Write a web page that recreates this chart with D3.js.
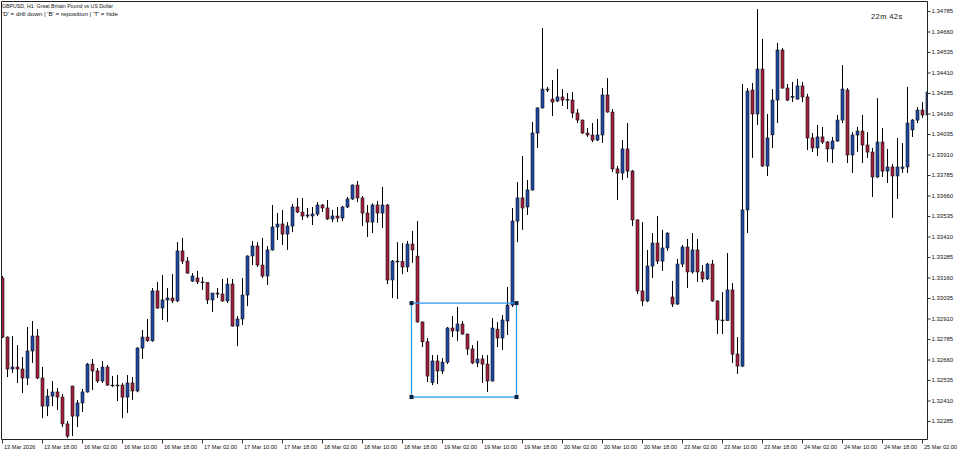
<!DOCTYPE html>
<html><head><meta charset="utf-8">
<script src="https://cdn.jsdelivr.net/npm/d3@7"></script>
<style>
html,body{margin:0;padding:0;background:#fff;}
svg{display:block;font-family:"Liberation Sans",Arial,sans-serif;}
</style></head>
<body>
<svg id="chart" width="960" height="455"></svg>
<script>
const title = "GBPUSD, H1:  Great Britain Pound vs US Dollar";
const subtitle = "'D' = drill down | 'B' = reposition | 'T' = hide";
const timer = "22m 42s";

const open = [1.33157,1.32797,1.32602,1.32614,1.32602,1.32547,1.32712,1.32803,1.32547,1.32376,
1.32437,1.32462,1.32431,1.32267,1.32498,1.32315,1.32395,1.32462,1.32632,1.32590,
1.32529,1.32614,1.32504,1.32501,1.32504,1.32431,1.32517,1.32468,1.32730,1.32797,
1.32774,1.33078,1.32974,1.33023,1.33035,1.33017,1.33322,1.33260,1.33138,1.33157,
1.33133,1.33129,1.33023,1.33065,1.33059,1.33017,1.33120,1.32864,1.32907,1.33053,
1.33291,1.33352,1.33236,1.33169,1.33328,1.33468,1.33486,1.33425,1.33474,1.33590,
1.33559,1.33535,1.33535,1.33547,1.33602,1.33584,1.33517,1.33535,1.33523,1.33590,
1.33639,1.33724,1.33645,1.33553,1.33498,1.33602,1.33553,1.33602,1.33145,1.33260,
1.33257,1.33224,1.33364,1.33290,1.32889,1.32768,1.32520,1.32651,1.32590,1.32644,
1.32852,1.32834,1.32876,1.32815,1.32724,1.32639,1.32663,1.32632,1.32529,1.32845,
1.32791,1.32895,1.32992,1.33504,1.33645,1.33590,1.33694,1.34041,1.34194,1.34309,
1.34248,1.34236,1.34261,1.34242,1.34242,1.34163,1.34120,1.34041,1.34029,1.33998,
1.34029,1.34273,1.34169,1.33822,1.33797,1.33944,1.33809,1.33511,1.33078,1.33017,
1.33230,1.33370,1.33260,1.33340,1.33041,1.32998,1.33242,1.33346,1.33194,1.33328,
1.33194,1.33151,1.33242,1.33017,1.32901,1.32897,1.33084,1.32693,1.32620,1.33572,
1.34303,1.34157,1.34431,1.33840,1.34030,1.34242,1.34547,1.34315,1.34260,1.34248,
1.34328,1.34261,1.34011,1.33950,1.34017,1.33986,1.33944,1.33992,1.34120,1.34303,
1.33907,1.34029,1.34053,1.33968,1.33925,1.33773,1.33986,1.33809,1.33834,1.33779,
1.33825,1.33834,1.34060,1.34120,1.34181,1.34151];

const high = [1.33169,1.32800,1.32803,1.32748,1.32675,1.32858,1.32895,1.32846,1.32614,1.32480,
1.32529,1.32486,1.32450,1.32285,1.32500,1.32413,1.32480,1.32639,1.32663,1.32608,
1.32651,1.32626,1.32559,1.32565,1.32517,1.32565,1.32553,1.32734,1.32840,1.32907,
1.33096,1.33133,1.33175,1.33096,1.33181,1.33376,1.33401,1.33285,1.33187,1.33200,
1.33163,1.33130,1.33066,1.33096,1.33151,1.33157,1.33151,1.32925,1.33157,1.33295,
1.33383,1.33376,1.33401,1.33352,1.33602,1.33553,1.33572,1.33498,1.33608,1.33645,
1.33645,1.33584,1.33590,1.33620,1.33608,1.33633,1.33572,1.33590,1.33596,1.33651,
1.33727,1.33748,1.33657,1.33602,1.33612,1.33627,1.33712,1.33608,1.33267,1.33376,
1.33370,1.33383,1.33444,1.33504,1.32892,1.32791,1.32687,1.32687,1.32669,1.32858,
1.32925,1.32980,1.32895,1.32818,1.32748,1.32774,1.32687,1.32687,1.32913,1.32889,
1.32931,1.33102,1.33584,1.33742,1.33901,1.33755,1.34108,1.34197,1.34681,1.34322,
1.34364,1.34431,1.34309,1.34285,1.34291,1.34187,1.34123,1.34072,1.34102,1.34126,
1.34315,1.34376,1.34187,1.33840,1.33998,1.34102,1.33816,1.33514,1.33498,1.33328,
1.33431,1.33535,1.33450,1.33435,1.33139,1.33273,1.33358,1.33395,1.33431,1.33395,
1.33236,1.33249,1.33267,1.33020,1.33071,1.33309,1.33126,1.32797,1.34340,1.34315,
1.34346,1.34797,1.34614,1.34157,1.34309,1.34590,1.34559,1.34340,1.34352,1.34370,
1.34352,1.34280,1.34041,1.34090,1.34078,1.33992,1.34017,1.34151,1.34456,1.34315,
1.34047,1.34078,1.34151,1.34047,1.33950,1.34254,1.34072,1.33944,1.33852,1.34011,
1.33980,1.34322,1.34126,1.34200,1.34230,1.34364];

const low = [1.32791,1.32553,1.32578,1.32517,1.32456,1.32504,1.32639,1.32541,1.32303,1.32315,
1.32376,1.32352,1.32248,1.32181,1.32193,1.32248,1.32340,1.32458,1.32474,1.32517,
1.32517,1.32500,1.32492,1.32407,1.32303,1.32334,1.32413,1.32460,1.32663,1.32768,
1.32768,1.32970,1.32901,1.32889,1.33004,1.33010,1.33242,1.33183,1.33133,1.33120,
1.33084,1.32998,1.32950,1.33035,1.33012,1.33004,1.32860,1.32742,1.32870,1.32986,
1.33236,1.33224,1.33157,1.33114,1.33324,1.33389,1.33358,1.33328,1.33437,1.33553,
1.33511,1.33523,1.33480,1.33535,1.33559,1.33511,1.33498,1.33498,1.33504,1.33584,
1.33633,1.33620,1.33474,1.33407,1.33431,1.33492,1.33462,1.33120,1.33035,1.33029,
1.33181,1.33194,1.33249,1.32885,1.32736,1.32523,1.32504,1.32510,1.32572,1.32632,
1.32797,1.32774,1.32812,1.32687,1.32632,1.32614,1.32517,1.32462,1.32525,1.32736,
1.32718,1.32809,1.32980,1.33376,1.33450,1.33541,1.33690,1.33950,1.34190,1.34291,
1.34145,1.34230,1.34206,1.34187,1.34133,1.34102,1.34035,1.34017,1.33986,1.33992,
1.33980,1.34165,1.33803,1.33633,1.33755,1.33767,1.33474,1.33059,1.32986,1.33010,
1.33157,1.33242,1.33200,1.33322,1.32980,1.32994,1.33224,1.33096,1.33183,1.33133,
1.33130,1.33145,1.33012,1.32815,1.32815,1.32895,1.32639,1.32572,1.32614,1.33431,
1.33889,1.34090,1.33834,1.33779,1.33950,1.34102,1.34312,1.34236,1.34230,1.34245,
1.34230,1.33937,1.33925,1.33901,1.33974,1.33864,1.33858,1.33988,1.34102,1.33858,
1.33797,1.33925,1.33858,1.33889,1.33651,1.33767,1.33773,1.33736,1.33523,1.33639,
1.33797,1.33797,1.34017,1.34102,1.34133,1.34133];

const close = [1.32797,1.32602,1.32614,1.32602,1.32547,1.32712,1.32803,1.32547,1.32376,1.32437,
1.32462,1.32431,1.32267,1.32193,1.32315,1.32395,1.32462,1.32632,1.32590,1.32529,
1.32614,1.32504,1.32501,1.32504,1.32431,1.32517,1.32468,1.32730,1.32797,1.32774,
1.33078,1.32974,1.33023,1.33035,1.33017,1.33322,1.33260,1.33187,1.33169,1.33133,
1.33129,1.33023,1.33065,1.33059,1.33017,1.33120,1.32864,1.32907,1.33053,1.33291,
1.33352,1.33236,1.33169,1.33328,1.33468,1.33486,1.33425,1.33474,1.33590,1.33559,
1.33535,1.33541,1.33547,1.33602,1.33584,1.33517,1.33535,1.33523,1.33590,1.33639,
1.33724,1.33645,1.33553,1.33498,1.33602,1.33553,1.33602,1.33145,1.33260,1.33257,
1.33224,1.33364,1.33328,1.32889,1.32768,1.32559,1.32651,1.32590,1.32644,1.32852,
1.32834,1.32876,1.32815,1.32724,1.32639,1.32663,1.32632,1.32529,1.32852,1.32791,
1.32901,1.32992,1.33504,1.33645,1.33584,1.33694,1.34041,1.34194,1.34309,1.34303,
1.34230,1.34261,1.34242,1.34246,1.34163,1.34120,1.34041,1.34029,1.33998,1.34029,
1.34273,1.34169,1.33822,1.33797,1.33944,1.33809,1.33511,1.33078,1.33017,1.33230,
1.33370,1.33260,1.33340,1.33431,1.32998,1.33242,1.33346,1.33194,1.33328,1.33194,
1.33151,1.33242,1.33017,1.32901,1.32897,1.33084,1.32693,1.32620,1.33572,1.34297,
1.34157,1.34431,1.33840,1.34011,1.34242,1.34547,1.34315,1.34242,1.34264,1.34328,
1.34261,1.34011,1.33950,1.34017,1.33986,1.33944,1.33992,1.34120,1.34309,1.33907,
1.34029,1.34053,1.33968,1.33925,1.33773,1.33986,1.33809,1.33834,1.33779,1.33834,
1.33834,1.34102,1.34120,1.34181,1.34151,1.34291];

const xTickLabels = ["13 Mar 2026","13 Mar 18:00","16 Mar 02:00","16 Mar 10:00","16 Mar 18:00",
"17 Mar 02:00","17 Mar 10:00","17 Mar 18:00","18 Mar 02:00","18 Mar 10:00","18 Mar 18:00",
"19 Mar 02:00","19 Mar 10:00","19 Mar 18:00","20 Mar 02:00","20 Mar 10:00","20 Mar 18:00",
"23 Mar 02:00","23 Mar 10:00","23 Mar 18:00","24 Mar 02:00","24 Mar 10:00","24 Mar 18:00","25 Mar 02:00"];
const xTickBars = [0,8,16,24,32,40,48,56,64,72,80,88,96,104,112,120,128,136,144,152,160,168,176,184];

const yTicks = [1.34785,1.34660,1.34535,1.34410,1.34285,1.34160,1.34035,1.33910,1.33785,1.33660,
1.33535,1.33410,1.33285,1.33160,1.33035,1.32910,1.32785,1.32660,1.32535,1.32410,1.32285];

// rectangle object: bar indices and price bounds
const boxBars = [82, 103];
const boxPrices = [1.33004, 1.32431];

const W = 960, H = 455;
const plotL = 1, plotT = 1, plotR = 927, plotB = 439;
const n = open.length;

const svg = d3.select("#chart");
const x = d3.scaleBand().domain(d3.range(n)).range([0, 5 * n]).padding(0);
const xc = i => x(i) + x.bandwidth() / 2;
const y = d3.scaleLinear().domain([1.32285, 1.34785]).range([421, 11]);

svg.append("defs").append("clipPath").attr("id", "plot")
  .append("rect").attr("x", plotL + 1).attr("y", plotT).attr("width", plotR - plotL - 1).attr("height", plotB - plotT);

const bull = "#1f48a6", bear = "#a31f3d";
const data = d3.range(n).map(i => ({i, o: open[i], h: high[i], l: low[i], c: close[i]}));

const g = svg.append("g").attr("clip-path", "url(#plot)");
g.selectAll("line.wick").data(data).join("line").attr("class", "wick")
  .attr("x1", d => xc(d.i)).attr("x2", d => xc(d.i))
  .attr("y1", d => y(Math.max(d.h, d.o, d.c))).attr("y2", d => y(Math.min(d.l, d.o, d.c)))
  .attr("stroke", "#000").attr("stroke-width", 1);
g.selectAll("rect.body").data(data).join("rect").attr("class", "body")
  .attr("x", d => xc(d.i) - 1.5).attr("width", 3)
  .attr("y", d => y(Math.max(d.o, d.c)))
  .attr("height", d => Math.max(Math.abs(y(d.o) - y(d.c)), 0.8))
  .attr("fill", d => d.c >= d.o ? bull : bear)
  .attr("stroke", "#111").attr("stroke-width", 0.6);

// rectangle annotation
const bx0 = xc(boxBars[0]) - 1, bx1 = xc(boxBars[1]) - 1;
const by0 = y(boxPrices[0]), by1 = y(boxPrices[1]);
svg.append("rect").attr("x", bx0).attr("y", by0).attr("width", bx1 - bx0).attr("height", by1 - by0)
  .attr("fill", "none").attr("stroke", "#2e9cef").attr("stroke-width", 1.3);
[[bx0, by0], [bx1, by0], [bx0, by1], [bx1, by1]].forEach(([px, py]) => {
  svg.append("rect").attr("x", px - 2).attr("y", py - 2).attr("width", 4).attr("height", 4).attr("fill", "#0c1d3d");
});

// frame
svg.append("path").attr("d", `M${plotL + 0.5},${plotB + 0.5}V${plotT + 0.5}H${plotR + 0.5}V${plotB + 0.5}H${plotL + 0.5}`)
  .attr("fill", "none").attr("stroke", "#222").attr("stroke-width", 1);

// y axis (right)
const yAxis = d3.axisRight(y).tickValues(yTicks).tickFormat(d3.format(".5f")).tickSize(3).tickPadding(1);
const ya = svg.append("g").attr("transform", `translate(${plotR + 0.5},0)`).call(yAxis);
ya.select(".domain").remove();
ya.selectAll("line").attr("stroke", "#333");
ya.selectAll("text").attr("font-size", 6).attr("fill", "#111").attr("font-family", "Liberation Sans, Arial, sans-serif");

// x axis (bottom)
const xa = svg.append("g").attr("transform", `translate(0,${plotB + 0.5})`);
xa.selectAll("line").data(xTickBars).join("line")
  .attr("x1", d => Math.floor(xc(d)) + 0.5).attr("x2", d => Math.floor(xc(d)) + 0.5)
  .attr("y1", 0).attr("y2", 4).attr("stroke", "#333");
xa.selectAll("text").data(xTickBars).join("text")
  .attr("x", d => Math.floor(xc(d)) + 2).attr("y", 9)
  .attr("font-size", 5.6).attr("fill", "#111")
  .text((d, k) => xTickLabels[k]);

// titles
svg.append("text").attr("x", 2).attr("y", 8).attr("font-size", 5.8).attr("fill", "#111")
  .attr("textLength", 111).attr("lengthAdjust", "spacingAndGlyphs").text(title);
svg.append("text").attr("x", 2).attr("y", 15.5).attr("font-size", 5.8).attr("fill", "#111")
  .attr("textLength", 116).attr("lengthAdjust", "spacingAndGlyphs").text(subtitle);
svg.append("text").attr("x", 871).attr("y", 18.5).attr("font-size", 7.5).attr("fill", "#111")
  .attr("letter-spacing", 0.4).text(timer);
</script>
</body></html>
